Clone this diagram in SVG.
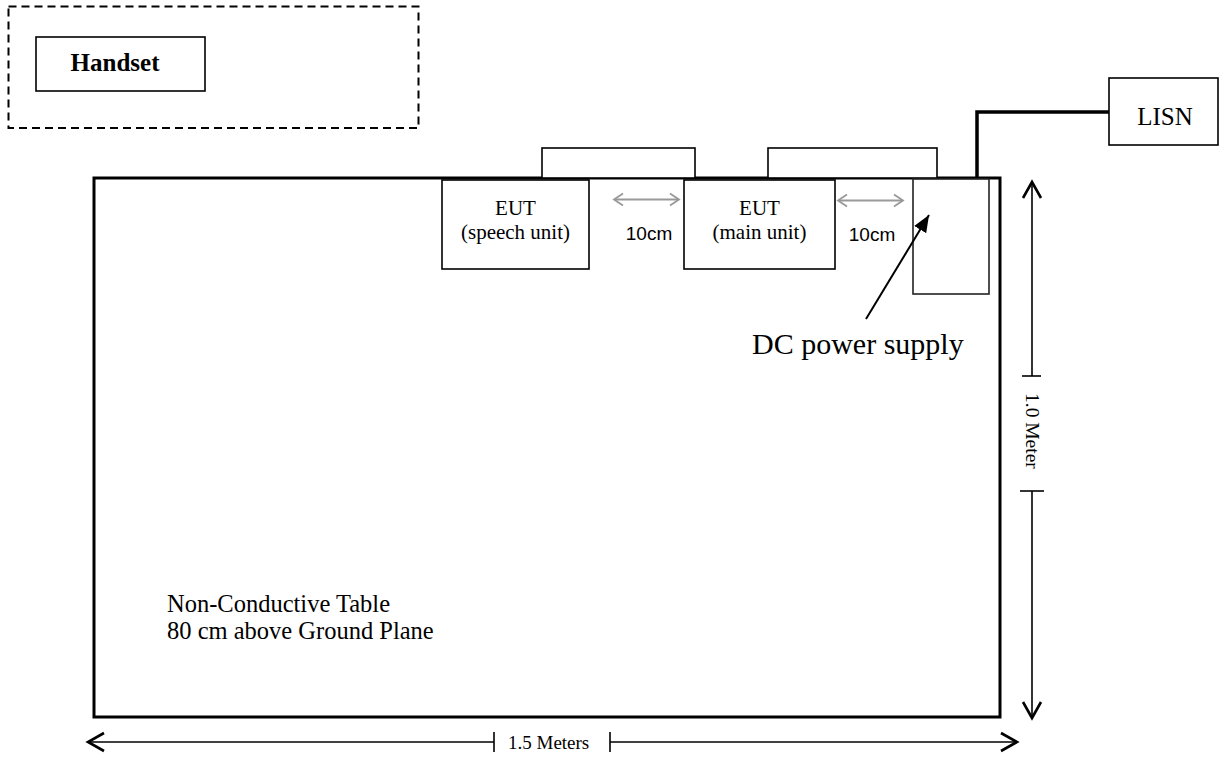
<svg xmlns="http://www.w3.org/2000/svg" width="1219" height="757" viewBox="0 0 1219 757">
<style>
.box{fill:#fff;stroke:#000;stroke-width:1.6}
.serif{font-family:"Liberation Serif","Times New Roman",serif;fill:#000}
.sans{font-family:"Liberation Sans",Arial,sans-serif;fill:#000}
.dim{stroke:#000;stroke-width:1.6;fill:none}
.gray{stroke:#999;stroke-width:1.8;fill:none}
</style>
<defs>
<marker id="open" markerUnits="userSpaceOnUse" viewBox="-2 -12 22 24" markerWidth="22" markerHeight="24" refX="17" refY="0" orient="auto-start-reverse">
<path d="M1,-9 L17,0 L1,9" fill="none" stroke="#000" stroke-width="2.6"/>
</marker>
<marker id="grayhead" markerUnits="userSpaceOnUse" viewBox="-2 -8 14 16" markerWidth="14" markerHeight="16" refX="9" refY="0" orient="auto-start-reverse">
<path d="M0,-6 L9,0 L0,6" fill="none" stroke="#999" stroke-width="1.8"/>
</marker>
<marker id="solid" markerUnits="userSpaceOnUse" viewBox="0 -8 18 16" markerWidth="18" markerHeight="16" refX="17" refY="0" orient="auto">
<path d="M0,-7 L17,0 L0,7 Z" fill="#000"/>
</marker>
</defs>
<rect width="1219" height="757" fill="#fff"/>
<g id="handset-area">
<rect x="8.5" y="6.5" width="410" height="121.5" fill="none" stroke="#000" stroke-width="2" stroke-dasharray="8,5"/>
</g>
<g id="handset">
<rect class="box" x="36" y="37" width="169" height="54"/>
<text class="serif" x="115" y="71" font-size="25" font-weight="bold" text-anchor="middle">Handset</text>
</g>
<g id="table">
<rect x="94" y="178" width="906" height="539" fill="none" stroke="#000" stroke-width="3"/>
<text class="serif" x="167" y="612" font-size="24.5">Non-Conductive Table</text>
<text class="serif" x="167" y="639" font-size="24.5">80 cm above Ground Plane</text>
</g>
<g id="cable1">
<rect class="box" x="542" y="148" width="153" height="30"/>
</g>
<g id="cable2">
<rect class="box" x="768" y="148" width="169" height="30"/>
</g>
<g id="eut-speech">
<rect class="box" x="442" y="180" width="147" height="89"/>
<text class="serif" x="515.5" y="215" font-size="21" text-anchor="middle">EUT</text>
<text class="serif" x="515.5" y="239" font-size="21" text-anchor="middle">(speech unit)</text>
</g>
<g id="eut-main">
<rect class="box" x="684" y="180" width="151" height="89"/>
<text class="serif" x="759.5" y="215" font-size="21" text-anchor="middle">EUT</text>
<text class="serif" x="759.5" y="239" font-size="21" text-anchor="middle">(main unit)</text>
</g>
<g id="dc-supply">
<rect x="913" y="179" width="76" height="115" fill="#fff" stroke="#222" stroke-width="1.6"/>
<text class="serif" x="752" y="354" font-size="30">DC power supply</text>
</g>
<g id="lisn">
<rect class="box" x="1109" y="78" width="109" height="67"/>
<text class="serif" x="1165" y="125" font-size="25" text-anchor="middle">LISN</text>
</g>
<g id="connectors">
<polyline points="977,178 977,112 1109,112" fill="none" stroke="#000" stroke-width="3.5"/>
<line class="gray" x1="614" y1="199.5" x2="679" y2="199.5" marker-start="url(#grayhead)" marker-end="url(#grayhead)"/>
<line class="gray" x1="838" y1="200.5" x2="903" y2="200.5" marker-start="url(#grayhead)" marker-end="url(#grayhead)"/>
<text class="sans" x="649" y="240" font-size="19" text-anchor="middle">10cm</text>
<text class="sans" x="872" y="241" font-size="19" text-anchor="middle">10cm</text>
<line x1="866" y1="319" x2="929" y2="215" stroke="#000" stroke-width="2" marker-end="url(#solid)"/>
<line class="dim" x1="1032" y1="376" x2="1032" y2="182" marker-end="url(#open)"/>
<line class="dim" x1="1022" y1="376" x2="1041" y2="376"/>
<line class="dim" x1="1032" y1="491" x2="1032" y2="718" marker-end="url(#open)"/>
<line class="dim" x1="1020" y1="491" x2="1044" y2="491"/>
<text class="serif" transform="translate(1026,393) rotate(90)" font-size="19.5">1.0 Meter</text>
<line class="dim" x1="494" y1="742" x2="88" y2="742" marker-end="url(#open)"/>
<line class="dim" x1="494" y1="732" x2="494" y2="752"/>
<line class="dim" x1="610" y1="742" x2="1017" y2="742" marker-end="url(#open)"/>
<line class="dim" x1="610" y1="732" x2="610" y2="752"/>
<text class="serif" x="508" y="749" font-size="19">1.5 Meters</text>
</g>
</svg>
